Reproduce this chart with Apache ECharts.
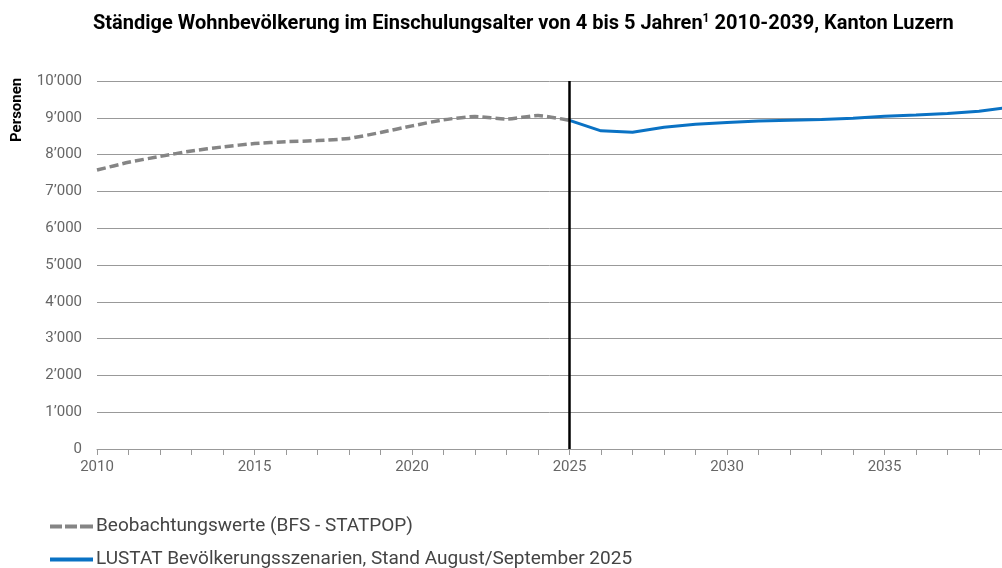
<!DOCTYPE html>
<html lang="de" style="height: 100%">

<head>
  <meta charset="utf-8">
</head>

<body style="height: 100%; margin: 0">
  <div id="container" style="height: 100%"></div>

  <script type="text/javascript" src="https://cdn.jsdelivr.net/npm/echarts@6/dist/echarts.min.js"></script>

  <script type="text/javascript">
    // Beobachtungswerte 2010-2025
    var obsYears = [2010, 2011, 2012, 2013, 2014, 2015, 2016, 2017, 2018, 2019, 2020, 2021, 2022, 2023, 2024, 2025];
    var obsValues = [7580, 7790, 7950, 8100, 8210, 8300, 8350, 8380, 8440, 8600, 8780, 8945, 9035, 8965, 9060, 8930];

    // Szenario 2025-2039
    var scenYears = [2025, 2026, 2027, 2028, 2029, 2030, 2031, 2032, 2033, 2034, 2035, 2036, 2037, 2038, 2039];
    var scenValues = [8930, 8645, 8608, 8745, 8825, 8870, 8910, 8935, 8955, 8985, 9040, 9075, 9120, 9180, 9290];

    var cutYear = 2025;
    var obsName = 'Beobachtungswerte (BFS - STATPOP)';
    var scenName = 'LUSTAT Bevölkerungsszenarien, Stand August/September 2025';

    var dom = document.getElementById('container');
    var myChart = echarts.init(dom, null, { renderer: 'canvas' });

    function pairs(xs, ys) {
      return xs.map(function (x, i) { return [x, ys[i]]; });
    }

    // legend icons drawn as simple paths (dashed / solid)
    var dashIcon = 'path://M0,0h12v4h-12z M15,0h12v4h-12z M30,0h13v4h-13z';
    var solidIcon = 'path://M0,0h43v4h-43z';

    function legendBlock(name, icon, top) {
      return {
        orient: 'vertical',
        left: 45,
        top: top,
        itemWidth: 43,
        itemHeight: 4,
        itemGap: 0,
        textStyle: { fontSize: 19, color: '#444', padding: [0, 0, 0, -2] },
        data: [{ name: name, icon: icon }]
      };
    }

    var option = {
      animation: false,
      textStyle: { fontFamily: 'Roboto' },
      title: {
        text: 'Ständige Wohnbevölkerung im Einschulungsalter von 4 bis 5 Jahren{sup|1} 2010-2039, Kanton Luzern',
        left: 88,
        top: 8,
        textStyle: {
          fontSize: 20,
          fontWeight: 'bold',
          color: '#000',
          rich: {
            sup: { fontSize: 12, fontWeight: 'bold', color: '#000', verticalAlign: 'top', padding: [0, 0, 9, 0] }
          }
        }
      },
      graphic: [{
        type: 'text',
        x: 10,
        y: 142,
        rotation: Math.PI / 2,
        style: {
          text: 'Personen',
          fontFamily: 'Roboto',
          fontSize: 15,
          fontWeight: 'bold',
          fill: '#000'
        }
      }],
      legend: [
        legendBlock(obsName, dashIcon, 512),
        legendBlock(scenName, solidIcon, 545)
      ],
      grid: {
        left: 97,
        right: 0,
        top: 81,
        bottom: 119
      },
      xAxis: {
        type: 'value',
        min: 2010,
        max: 2038.73,
        interval: 1,
        axisLine: { show: true, lineStyle: { color: '#999' } },
        axisTick: { show: true, length: 6, lineStyle: { color: '#999' } },
        splitLine: { show: false },
        axisLabel: {
          color: '#666',
          fontSize: 15,
          margin: 11,
          showMaxLabel: false,
          formatter: function (v) { return v % 5 === 0 ? String(v) : ''; }
        }
      },
      yAxis: {
        type: 'value',
        min: 0,
        max: 10000,
        interval: 1000,
        axisLine: { show: false },
        axisTick: { show: false },
        splitLine: { lineStyle: { color: '#999', width: 1 } },
        axisLabel: {
          color: '#666',
          fontSize: 15,
          margin: 15,
          formatter: function (v) {
            return String(v).replace(/\B(?=(\d{3})+(?!\d))/g, '\u2019');
          }
        }
      },
      series: [
        {
          name: obsName,
          type: 'line',
          symbol: 'none',
          smooth: 0.2,
          data: pairs(obsYears, obsValues),
          lineStyle: { color: '#858585', width: 3.5, type: [9, 4] },
          itemStyle: { color: '#858585' },
          z: 3
        },
        {
          name: scenName,
          type: 'line',
          symbol: 'none',
          data: pairs(scenYears, scenValues),
          lineStyle: { color: '#0a72c4', width: 3 },
          itemStyle: { color: '#0a72c4' },
          z: 4,
          markLine: {
            silent: true,
            symbol: 'none',
            label: { show: false },
            lineStyle: { color: '#000', width: 2.5, type: 'solid' },
            data: [{ xAxis: cutYear }]
          }
        }
      ]
    };

    myChart.setOption(option);
    window.addEventListener('resize', myChart.resize);
  </script>
</body>

</html>
